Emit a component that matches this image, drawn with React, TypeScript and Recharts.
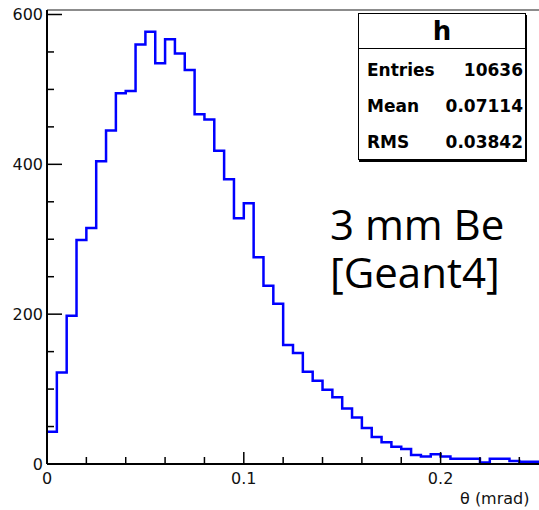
import { Line, LineChart, ReferenceLine, XAxis, YAxis } from "recharts";

// theta histogram, 50 bins of 0.005 mrad from 0 to 0.25
const BIN_WIDTH = 0.005;
const counts = [
  43, 122, 198, 299, 315, 404, 445, 495, 498, 560,
  577, 535, 567, 548, 526, 467, 460, 418, 380, 328,
  348, 276, 238, 214, 159, 148, 123, 111, 99, 89,
  74, 62, 48, 36, 29, 23, 20, 12, 10, 13,
  10, 7, 7, 7, 2, 7, 7, 4, 3, 3,
];

const xTicks = [0, 0.02, 0.04, 0.06, 0.08, 0.1, 0.12, 0.14, 0.16, 0.18, 0.2, 0.22, 0.24];
const xMajor = [0, 0.1, 0.2];
const yTicks = [0, 50, 100, 150, 200, 250, 300, 350, 400, 450, 500, 550, 600];
const yMajor = [0, 200, 400, 600];
const Y_MAX = 606;

const stats = [
  { label: "Entries", value: "10636" },
  { label: "Mean", value: "0.07114" },
  { label: "RMS", value: "0.03842" },
];

const noteLines = ["3 mm Be", "[Geant4]"];

const histData = [
  ...counts.map((c, i) => ({ theta: i * BIN_WIDTH, count: c })),
  { theta: counts.length * BIN_WIDTH, count: counts[counts.length - 1] },
];

const isMajor = (v: number, list: number[]) => list.some((m) => Math.abs(v - m) < 1e-9);
const labelFont = "'DejaVu Sans', sans-serif";

function XTick({ x, y, payload }: any) {
  const major = isMajor(payload.value, xMajor);
  return (
    <g>
      <line x1={x} y1={y} x2={x} y2={y - (major ? 12 : 7)} stroke="#000" strokeWidth={1.5} />
      {major && (
        <text x={x} y={y + 20} textAnchor="middle" fontSize={16} fontFamily={labelFont} fill="#111">
          {payload.value}
        </text>
      )}
    </g>
  );
}

function YTick({ x, y, payload }: any) {
  const major = isMajor(payload.value, yMajor);
  return (
    <g>
      <line x1={x} y1={y} x2={x + (major ? 15 : 7)} y2={y} stroke="#000" strokeWidth={1.5} />
      {major && (
        <text x={x - 4} y={y + 6} textAnchor="end" fontSize={16} fontFamily={labelFont} fill="#111">
          {payload.value}
        </text>
      )}
    </g>
  );
}

export default function App() {
  return (
    <div style={{ position: "absolute", left: 0, top: 0, width: 539, height: 510, background: "#fff" }}>
      <LineChart width={539} height={510} data={histData} margin={{ top: 10, right: 0, bottom: 0, left: 0 }}>
        <ReferenceLine y={Y_MAX} stroke="#666" strokeWidth={1.5} />
        <XAxis
          dataKey="theta"
          type="number"
          domain={[0, 0.25]}
          ticks={xTicks}
          interval={0}
          tick={<XTick />}
          tickSize={0}
          tickMargin={0}
          tickLine={false}
          axisLine={{ stroke: "#000", strokeWidth: 2 }}
          height={46}
          allowDataOverflow
        />
        <YAxis
          type="number"
          domain={[0, Y_MAX]}
          ticks={yTicks}
          interval={0}
          tick={<YTick />}
          tickSize={0}
          tickMargin={0}
          tickLine={false}
          axisLine={{ stroke: "#000", strokeWidth: 2 }}
          width={47}
          allowDataOverflow
        />
        <Line
          dataKey="count"
          type="stepAfter"
          stroke="#0000ff"
          strokeWidth={2.5}
          dot={false}
          activeDot={false}
          isAnimationActive={false}
        />
      </LineChart>

      <div
        style={{
          position: "absolute",
          left: 460,
          top: 490,
          fontFamily: labelFont,
          fontSize: 16,
          lineHeight: "18px",
          color: "#111",
          whiteSpace: "nowrap",
        }}
      >
        θ (mrad)
      </div>

      <div
        style={{
          position: "absolute",
          left: 358,
          top: 13,
          width: 166,
          height: 145,
          border: "1.5px solid #000",
          boxShadow: "1px 2px 0 #000",
          background: "#fff",
          fontFamily: labelFont,
          fontWeight: "bold",
        }}
      >
        <div
          style={{
            height: 34,
            lineHeight: "34px",
            borderBottom: "1.5px solid #000",
            textAlign: "center",
            fontSize: 26,
          }}
        >
          h
        </div>
        {stats.map((s, i) => (
          <div
            key={s.label}
            style={{
              position: "absolute",
              left: 8,
              right: 2,
              top: 46 + i * 36,
              height: 20,
              lineHeight: "20px",
              fontSize: 17,
              display: "flex",
              justifyContent: "space-between",
            }}
          >
            <span>{s.label}</span>
            <span>{s.value}</span>
          </div>
        ))}
      </div>

      {noteLines.map((t, i) => (
        <div
          key={t}
          style={{
            position: "absolute",
            left: 330,
            top: 203 + i * 48,
            fontFamily: "'Open Sans', sans-serif",
            fontSize: 42,
            lineHeight: "42px",
            color: "#000",
            whiteSpace: "nowrap",
          }}
        >
          {t}
        </div>
      ))}
    </div>
  );
}
